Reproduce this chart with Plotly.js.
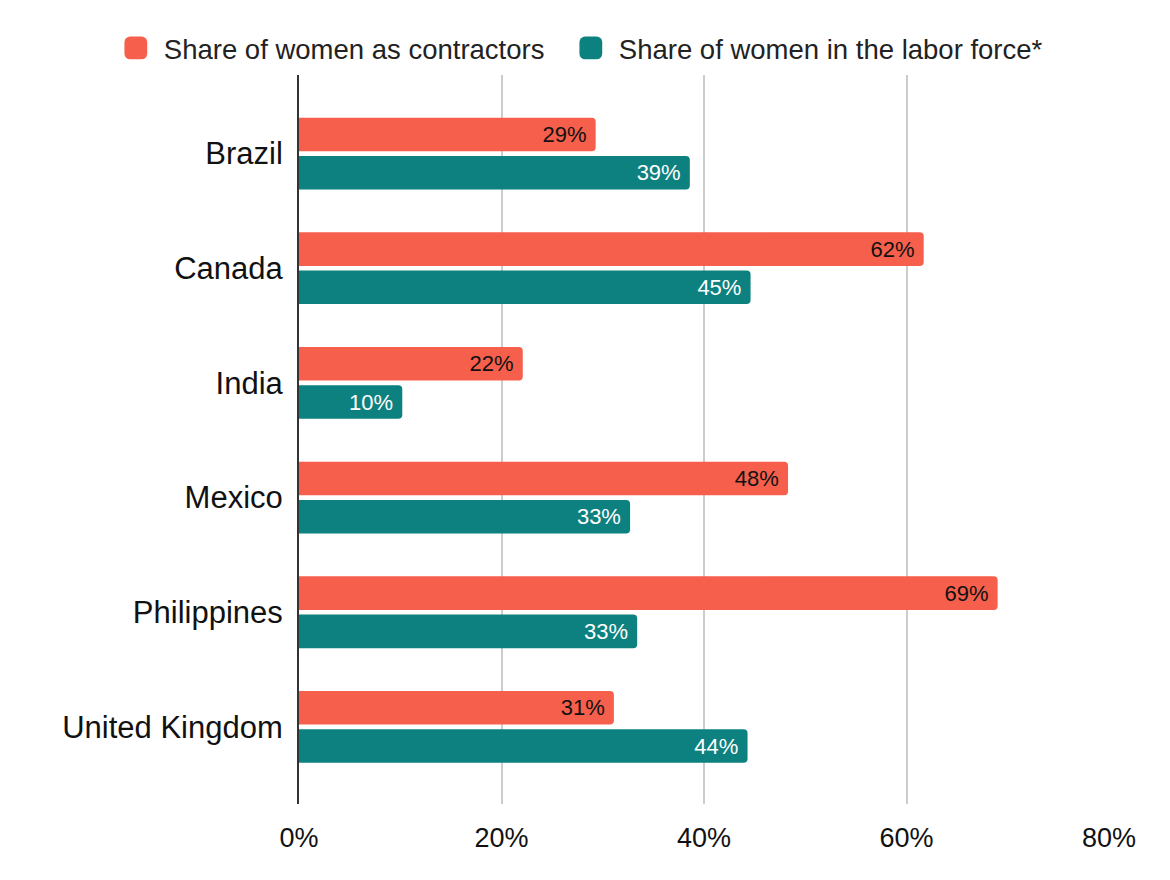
<!DOCTYPE html>
<html>
<head>
<meta charset="utf-8">
<script src="https://cdn.plot.ly/plotly-3.0.1.min.js"></script>
<style>html,body{margin:0;padding:0;background:#fff;}#chart{width:1170px;height:880px;}</style>
</head>
<body>
<div id="chart"></div>
<script>
const countries = ["Brazil", "Canada", "India", "Mexico", "Philippines", "United Kingdom"];
const contractors = [29.3, 61.7, 22.1, 48.3, 69.0, 31.1];
const laborForce = [38.6, 44.6, 10.2, 32.7, 33.4, 44.3];
const seriesNames = ["Share of women as contractors", "Share of women in the labor force*"];
const xTickVals = [0, 20, 40, 60, 80];
const xTickText = ["0%", "20%", "40%", "60%", "80%"];

const FONT = "Liberation Sans, Arial, sans-serif";

const traces = [
  {
    type: "bar", orientation: "h", name: seriesNames[0],
    y: countries, x: contractors, legendwidth: 394,
    marker: {color: "#f55f4b", cornerradius: 4},
    texttemplate: "%{x:.0f}%\u00a0", textposition: "inside", insidetextanchor: "end",
    textangle: 0, constraintext: "none",
    textfont: {family: FONT, size: 22, color: "#111"},
    hoverinfo: "skip"
  },
  {
    type: "bar", orientation: "h", name: seriesNames[1],
    y: countries, x: laborForce, legendwidth: 480,
    marker: {color: "#0d8180", cornerradius: 4},
    texttemplate: "%{x:.0f}%\u00a0", textposition: "inside", insidetextanchor: "end",
    textangle: 0, constraintext: "none",
    textfont: {family: FONT, size: 22, color: "#fff"},
    hoverinfo: "skip"
  }
];

const layout = {
  width: 1170, height: 880,
  margin: {l: 299, r: 61, t: 75, b: 76, autoexpand: false},
  paper_bgcolor: "#fff", plot_bgcolor: "#fff",
  font: {family: FONT, color: "#111"},
  barmode: "group", bargap: 0.333, bargroupgap: 0.123,
  showlegend: true,
  legend: {
    orientation: "h", xref: "paper", yref: "paper",
    x: -0.236, xanchor: "left", y: 1.037, yanchor: "middle",
    font: {family: FONT, size: 27.5, color: "#222"},
    itemwidth: 46,
    itemclick: false, itemdoubleclick: false,
    traceorder: "normal", bgcolor: "rgba(0,0,0,0)"
  },
  xaxis: {
    range: [0, 80], tickvals: xTickVals, ticktext: xTickText,
    showgrid: true, gridcolor: "#cccccc", gridwidth: 2,
    zeroline: false, showline: false,
    ticks: "outside", ticklen: 10, tickcolor: "rgba(0,0,0,0)",
    tickfont: {family: FONT, size: 27, color: "#111"},
    fixedrange: true
  },
  yaxis: {
    type: "category", range: [5.672, -0.685],
    showgrid: false, zeroline: false,
    showline: true, linecolor: "#333", linewidth: 2,
    ticks: "outside", ticklen: 8, tickcolor: "rgba(0,0,0,0)",
    tickfont: {family: FONT, size: 31, color: "#111"},
    fixedrange: true
  }
};

Plotly.newPlot("chart", traces, layout, {displayModeBar: false, staticPlot: true}).then(function (gd) {
  document.querySelectorAll("#chart .legend .legendpoints path").forEach(function (p) {
    const t = p.getAttribute("transform") || "";
    p.setAttribute("transform", t + " scale(1.9)");
  });
});
</script>
</body>
</html>
